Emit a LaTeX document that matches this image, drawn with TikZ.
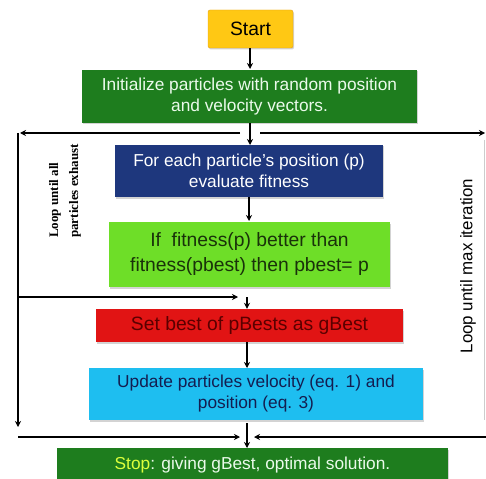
\documentclass[tikz,border=0pt]{standalone}
\usepackage{fontspec}
\setmainfont{Liberation Sans}
\newfontfamily\serifbold{Liberation Serif}
\usetikzlibrary{arrows.meta,shadows}
\definecolor{startY}{RGB}{255,200,20}
\definecolor{startB}{RGB}{230,160,20}
\definecolor{dgreen}{RGB}{30,125,30}
\definecolor{navy}{RGB}{30,55,125}
\definecolor{lgreen}{RGB}{110,222,40}
\definecolor{lgtext}{RGB}{25,50,10}
\definecolor{redbox}{RGB}{225,20,20}
\definecolor{redtext}{RGB}{90,0,0}
\definecolor{cyanbox}{RGB}{30,190,240}
\definecolor{cyantext}{RGB}{20,30,80}
\definecolor{stopY}{RGB}{220,255,60}
\definecolor{paletext}{RGB}{235,250,235}
\begin{document}
\begin{tikzpicture}[x=1pt,y=-1pt,
  box/.style={rectangle, inner sep=0pt, align=center, font=\fontsize{17.3}{21}\selectfont,
    drop shadow={shadow xshift=1pt,shadow yshift=-1.5pt,opacity=0.35}},
  big/.style={font=\fontsize{19.3}{25}\selectfont},
  arr/.style={line width=1.4pt, -{Stealth[length=6pt,width=6pt]}}]
\useasboundingbox (0,0) rectangle (486,478);
\begin{scope}
\clip (0,0) rectangle (486,478);
\node[box, big, fill=startY, draw=startB, rounded corners=2pt, minimum width=85pt, minimum height=38pt] (start) at (250.5,29) {Start};
\node[box, fill=dgreen, text=paletext, minimum width=335pt, minimum height=53pt] (init) at (249.5,96.5) {Initialize particles with random position\\and velocity vectors.};
\node[box, fill=navy, text=white, minimum width=268pt, minimum height=52pt] (eval) at (249,171) {For each particle's position (p)\\evaluate fitness};
\node[box, big, fill=lgreen, text=lgtext, minimum width=281pt, minimum height=65pt] (pb) at (249.5,254.5) {If\ \ fitness(p) better than\\fitness(pbest) then pbest= p};
\node[box, big, fill=redbox, text=redtext, minimum width=307pt, minimum height=33pt] (gb) at (249.5,325.5) {Set best of pBests as gBest};
\node[box, fill=cyanbox, text=cyantext, minimum width=334pt, minimum height=52pt] (upd) at (256,394) {Update particles velocity (eq. 1) and\\position (eq. 3)};
\node[box, fill=dgreen, minimum width=391pt, minimum height=40pt, anchor=north] (stop) at (252.5,448) {};
\node[text=paletext, font=\fontsize{17.3}{21}\selectfont, inner sep=0pt] (stoptxt) at (252.5,465) {\textcolor{stopY}{Stop}: giving gBest, optimal solution.};
\end{scope}
% coordinates for loops
\coordinate (tl) at (20,133);
\coordinate (tr) at (485,133);
\coordinate (gapL) at (240,133);
\coordinate (gapR) at (260,133);
\coordinate (lb) at (18,427);
\coordinate (lv) at (18,133);
\coordinate (mid) at (18,297);
\coordinate (midE) at (238,297);
\coordinate (bl) at (18,437);
\coordinate (blE) at (240,437);
\coordinate (br) at (486,437);
\coordinate (brE) at (254,437);
\coordinate (rv1) at (484,140);
\coordinate (rv2) at (484,420);
% vertical arrows
\draw[arr] (start.south -| 250,0) -- (250,69);
\draw[arr] (init.south -| 250,0) -- (250,145);
\draw[arr] (eval.south -| 249,0) -- (249,221);
\draw[arr] (247,297) -- (gb.north -| 247,0);
\draw[arr] (gb.south -| 247,0) -- (247,368);
\draw[arr] (247,423) -- (stop.north -| 247,0);
% top split
\draw[arr] (gapL) -- (tl);
\draw[arr] (gapR) -- (tr);
% left loop
\draw[arr] (lv) -- (lb);
\draw[arr] (mid) -- (midE);
\draw[arr] (bl) -- (blE);
\draw[arr] (br) -- (brE);
% right faint line
\draw[line width=0.6pt, black!20] (rv1) -- (rv2);
% labels
\node[rotate=90, anchor=west, align=left, font=\serifbold\bfseries\fontsize{13}{20}\selectfont, inner sep=0pt] (lloop) at (65,238) {Loop until all\\particles exhaust};
\node[rotate=90, font=\fontsize{16.9}{20}\selectfont, inner sep=0pt] (rloop) at (468,266) {Loop until max iteration};
\end{tikzpicture}
\end{document}
